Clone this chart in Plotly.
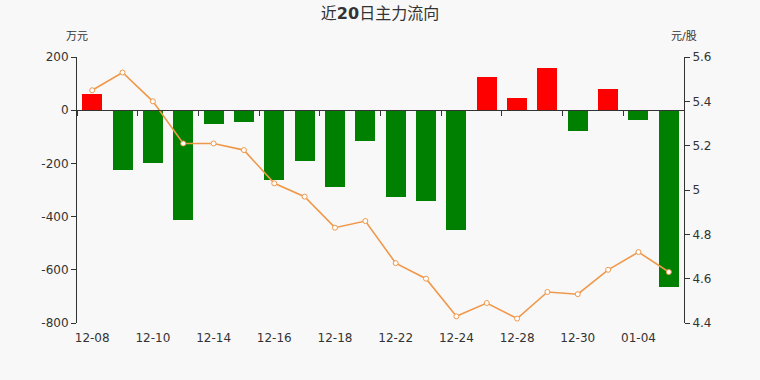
import plotly.graph_objects as go

dates = ["12-08", "12-09", "12-10", "12-11", "12-14", "12-15", "12-16", "12-17", "12-18", "12-21",
         "12-22", "12-23", "12-24", "12-25", "12-28", "12-29", "12-30", "12-31", "01-04", "01-05"]
flow = [62, -226, -197, -412, -50, -46, -264, -192, -287, -117,
        -326, -342, -449, 125, 45, 159, -80, 80, -35, -664]
price = [5.45, 5.53, 5.40, 5.21, 5.21, 5.18, 5.03, 4.97, 4.83, 4.86,
         4.67, 4.60, 4.43, 4.49, 4.42, 4.54, 4.53, 4.64, 4.72, 4.63]
left_ticks = [200, 0, -200, -400, -600, -800]
right_ticks = [5.6, 5.4, 5.2, 5.0, 4.8, 4.6, 4.4]

idx = list(range(len(dates)))
bar_colors = ["#ff0000" if v >= 0 else "#008000" for v in flow]
font = "DejaVu Sans, Noto Sans CJK SC, sans-serif"
axc = "#333333"

fig = go.Figure()
fig.add_trace(go.Bar(x=idx, y=flow, marker=dict(color=bar_colors, line=dict(width=0)),
                     width=0.66, xaxis="x", yaxis="y", showlegend=False, hoverinfo="skip"))
fig.add_trace(go.Scatter(x=idx, y=price, mode="lines+markers", xaxis="x", yaxis="y2",
                         line=dict(color="#f0984a", width=1.6),
                         marker=dict(size=5, color="#ffffff", line=dict(color="#f0984a", width=1)),
                         showlegend=False))
# invisible helper trace so the zero-line x axis (with tick marks) is drawn
fig.add_trace(go.Scatter(x=[idx[0]], y=[0], mode="markers", marker=dict(opacity=0),
                         xaxis="x2", yaxis="y", showlegend=False, hoverinfo="skip"))

rng = [-0.5, len(dates) - 0.5]
bounds = [i - 0.5 for i in range(0, len(dates) + 1, 2)]
fig.update_layout(
    width=760, height=380,
    margin=dict(l=77, r=76, t=57, b=57),
    paper_bgcolor="#f8f8f8", plot_bgcolor="#f8f8f8",
    font=dict(family=font, size=12, color=axc),
    bargap=0,
    title=dict(text="近<b>20</b>日主力流向", x=0.5, xanchor="center", y=0.965, yanchor="middle",
               font=dict(size=16, color=axc, family=font)),
    xaxis=dict(range=rng, tickvals=idx[::2], ticktext=dates[::2], showline=False, ticks="",
               ticklabelstandoff=6,
               showgrid=False, zeroline=False, tickfont=dict(size=12, color=axc)),
    xaxis2=dict(range=rng, overlaying="x", anchor="free", position=0.8, side="bottom",
                showline=True, linecolor=axc, linewidth=1, ticks="outside", ticklen=5,
                tickcolor=axc, tickvals=bounds, showticklabels=False, showgrid=False, zeroline=False),
    yaxis=dict(range=[-800, 200], tickvals=left_ticks, ticktext=[str(v) for v in left_ticks],
               showline=True, linecolor=axc, linewidth=1, ticks="outside", ticklen=5, tickcolor=axc,
               showgrid=False, zeroline=False, tickfont=dict(size=12, color=axc)),
    yaxis2=dict(range=[4.4, 5.6], overlaying="y", side="right", anchor="x",
                tickvals=right_ticks, ticktext=[("%g" % v) for v in right_ticks],
                showline=True, linecolor=axc, linewidth=1, ticks="outside", ticklen=5, tickcolor=axc,
                showgrid=False, zeroline=False, tickfont=dict(size=12, color=axc)),
    annotations=[
        dict(text="万元", xref="paper", yref="paper", x=0, y=1, yshift=12,
             xanchor="center", yanchor="bottom", showarrow=False, font=dict(size=11, color=axc)),
        dict(text="元/股", xref="paper", yref="paper", x=1, y=1, yshift=12,
             xanchor="center", yanchor="bottom", showarrow=False, font=dict(size=11, color=axc)),
    ],
)
fig.write_html("out.html")
